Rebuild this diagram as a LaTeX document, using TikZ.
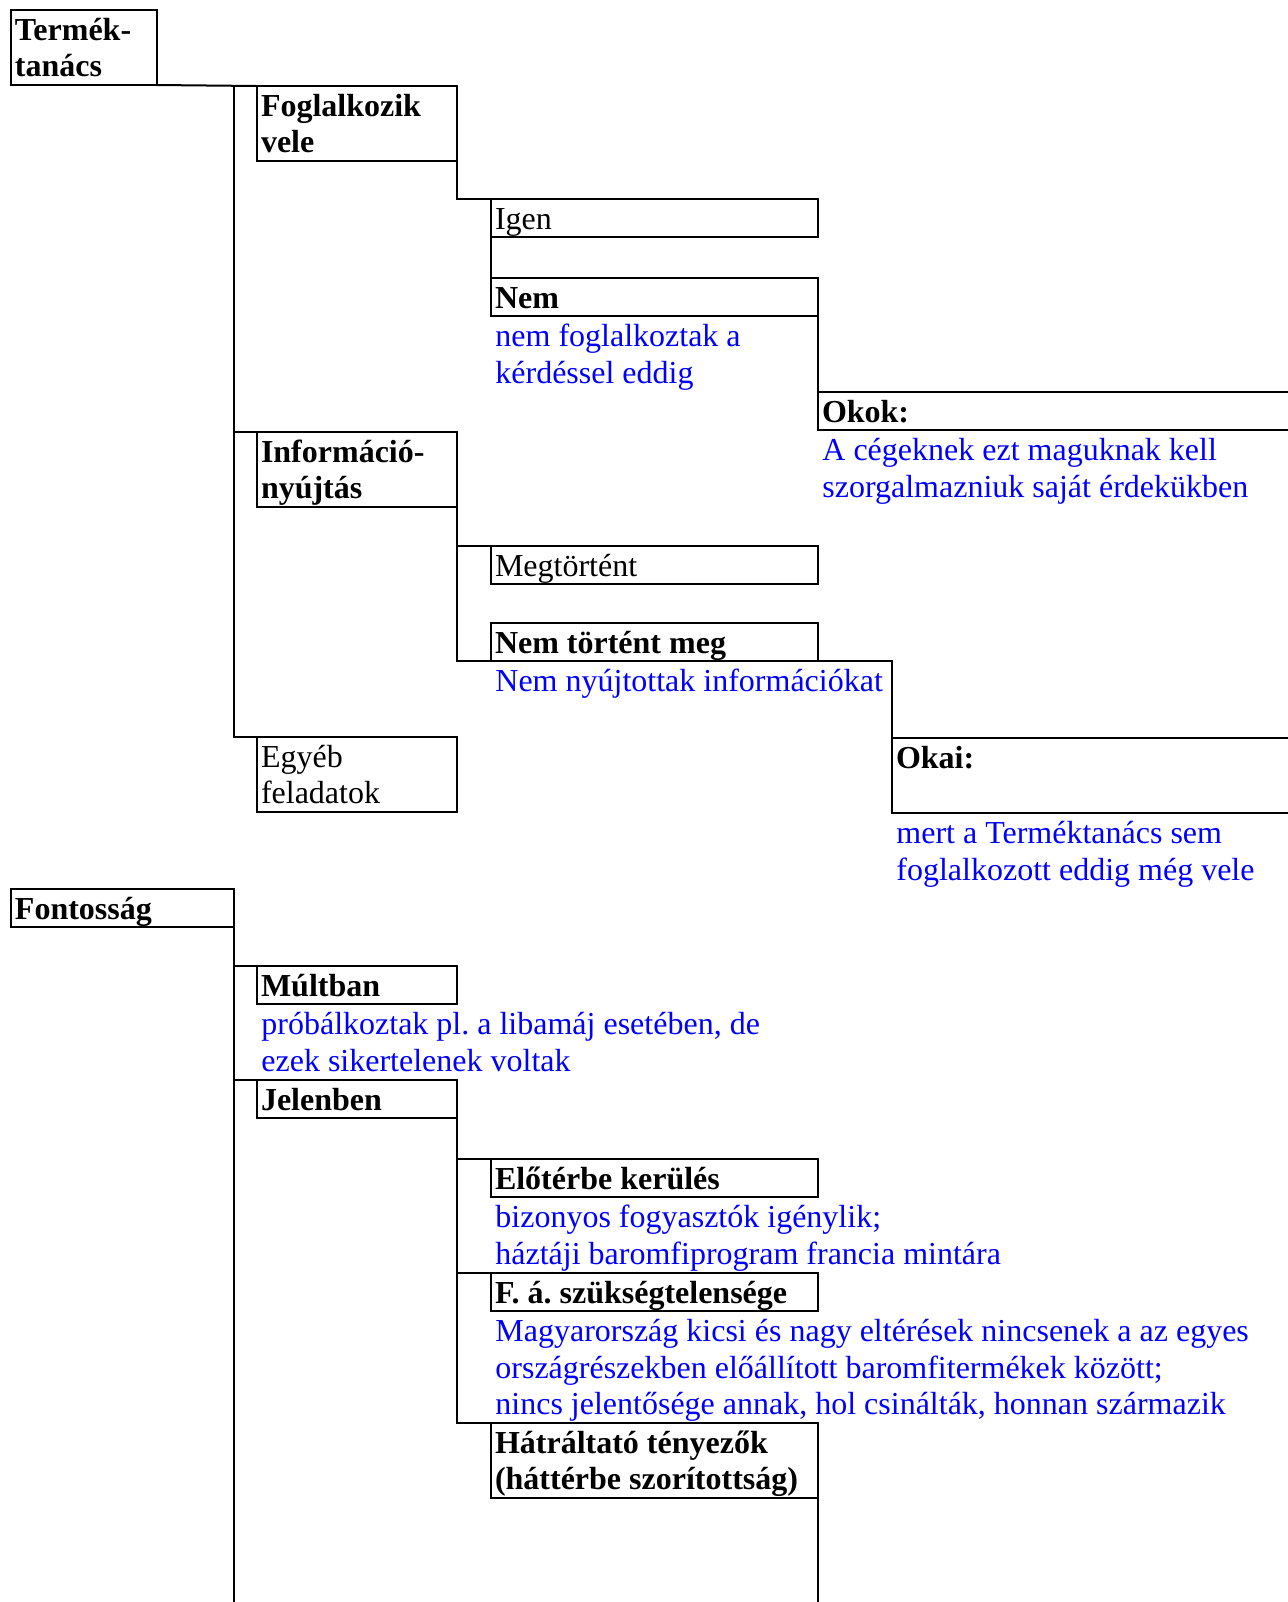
\documentclass[tikz,border=0pt]{standalone}
\usepackage{fontspec}
\setmainfont{Liberation Serif}
\usetikzlibrary{positioning,calc}
\definecolor{noteblue}{RGB}{0,0,255}
\newcommand{\treefont}{\fontsize{16pt}{18.3pt}\selectfont}

\begin{document}
\begin{tikzpicture}[x=0.5pt,y=-0.5pt,
    every node/.style={execute at begin node={\spaceskip=0.25em plus 0.1em\relax\xspaceskip=0.25em plus 0.1em\relax}},
    box/.style={draw,line width=1pt,anchor=north west,outer sep=0pt,
      inner xsep=2pt,inner ysep=0pt,text height=15pt,align=left,font=\treefont},
    bbox/.style={box,font=\treefont\bfseries},
    one/.style={text depth=4pt},     % one text line
    two/.style={text depth=22.5pt},  % two text lines
    note/.style={anchor=north west,inner xsep=2pt,inner ysep=0pt,text height=15pt,
      text width=420pt,align=left,text=noteblue,font=\treefont},
    link/.style={line width=1pt}]
  \path[use as bounding box,fill=white] (0,0) rectangle (1288,1602);
  % --- first tree (Termék-tanács) ---
  \node[bbox,two,text width=69pt] (termek) at (11,10) {Termék-\\tanács};
  \node[bbox,two,text width=96pt] (foglal) at (257,86) {Foglalkozik\\vele};
  \node[box,one,text width=159.5pt] (igen) at (491,199) {Igen};
  \node[bbox,one,text width=159.5pt] (nem) at (491,278) {Nem};
  \node[note] (nemtxt) at (nem.south west) {nem foglalkoztak a\\kérdéssel eddig};
  \node[bbox,one,text width=233pt] (okok) at (818,392) {Okok:};
  \node[note] (okoktxt) at (okok.south west) {A cégeknek ezt maguknak kell\\szorgalmazniuk saját érdekükben};
  \node[bbox,two,text width=96pt] (info) at (257,432) {Információ-\\nyújtás};
  \node[box,one,text width=159.5pt] (megt) at (491,546) {Megtörtént};
  \node[bbox,one,text width=159.5pt] (nemt) at (491,623) {Nem történt meg};
  \node[note] (nemttxt) at (nemt.south west) {Nem nyújtottak információkat};
  \node[box,two,text width=96pt] (egyeb) at (257,737) {Egyéb\\feladatok};
  \node[bbox,two,text width=196pt] (okai) at (892,738) {Okai:};
  \node[note] (okaitxt) at (okai.south west) {mert a Terméktanács sem\\foglalkozott eddig még vele};
  % --- second tree (Fontosság) ---
  \node[bbox,one,text width=107.5pt] (font) at (11,889) {Fontosság};
  \node[bbox,one,text width=96pt] (mult) at (257,966) {Múltban};
  \node[note] (multtxt) at (mult.south west) {próbálkoztak pl. a libamáj esetében, de\\ezek sikertelenek voltak};
  \node[bbox,one,text width=96pt] (jelen) at (257,1080) {Jelenben};
  \node[bbox,one,text width=159.5pt] (elot) at (491,1159) {Előtérbe kerülés};
  \node[note] (elottxt) at (elot.south west) {bizonyos fogyasztók igénylik;\\háztáji baromfiprogram francia mintára};
  \node[bbox,one,text width=159.5pt] (fa) at (491,1273) {F. á. szükségtelensége};
  \node[note] (fatxt) at (fa.south west) {Magyarország kicsi és nagy eltérések nincsenek a az egyes\\országrészekben előállított baromfitermékek között;\\nincs jelentősége annak, hol csinálták, honnan származik};
  \node[bbox,two,text width=159.5pt] (hatr) at (491,1423) {Hátráltató tényezők\\(háttérbe szorítottság)};
  % --- connectors ---
  \coordinate (trunkA) at (234,86);
  \coordinate (endA) at (234,1602);
  \coordinate (endB) at (818,1602);
  \draw[link] (termek.south east) -- (foglal.north west);
  \draw[link] (trunkA) |- (egyeb.north west);
  \draw[link] (trunkA |- info.north west) -- (info.north west);
  \draw[link] (foglal.south east) |- (igen.north west);
  \draw[link] (igen.south west) -- (nem.north west);
  \draw[link] (nem.south east) -- (okok.north west);
  \draw[link] (info.south east) |- (megt.north west);
  \draw[link] (info.south east) |- (okai.north west |- nemt.south) -- (okai.north west);
  \draw[link] (font.south east) -- (endA);
  \draw[link] (font.south east |- mult.north west) -- (mult.north west);
  \draw[link] (font.south east |- jelen.north west) -- (jelen.north west);
  \draw[link] (jelen.south east) |- (hatr.north west);
  \draw[link] (jelen.south east |- elot.north west) -- (elot.north west);
  \draw[link] (jelen.south east |- fa.north west) -- (fa.north west);
  \draw[link] (hatr.south east) -- (endB);
\end{tikzpicture}
\end{document}
